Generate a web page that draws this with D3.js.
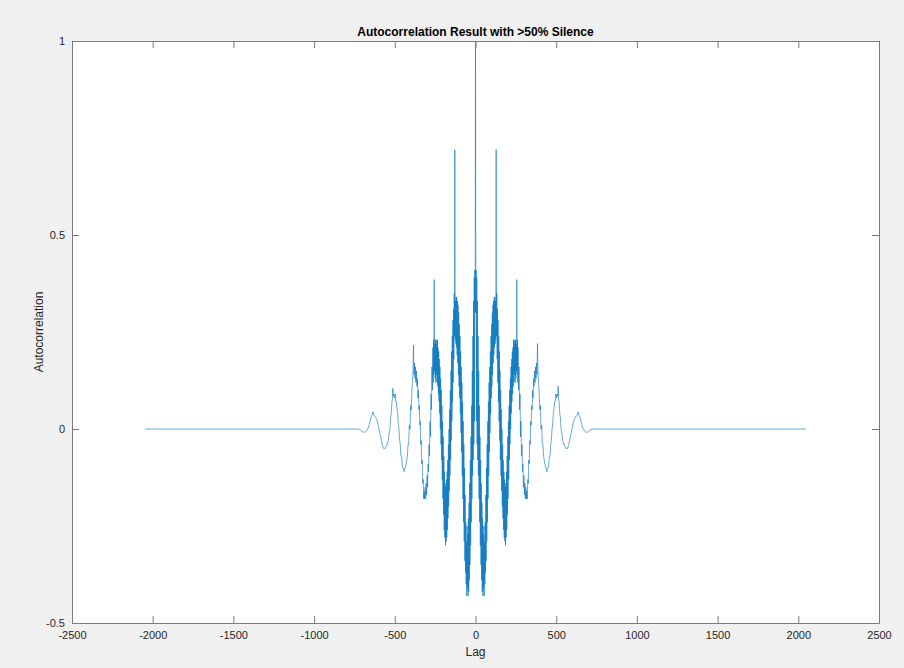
<!DOCTYPE html>
<html>
<head>
<meta charset="utf-8">
<script src="https://cdn.jsdelivr.net/npm/d3@7"></script>
<style>
  html,body{margin:0;padding:0;background:#f0f0f0;}
  svg{display:block;font-family:"Liberation Sans",Arial,Helvetica,sans-serif;}
</style>
</head>
<body>
<svg id="chart" width="904" height="668"></svg>
<script>
// ===== data =====
const TITLE = "Autocorrelation Result with >50% Silence";
const X_LABEL = "Lag";
const Y_LABEL = "Autocorrelation";
const xTicks = [-2500,-2000,-1500,-1000,-500,0,500,1000,1500,2000,2500];
const yTicks = [-0.5,0,0.5,1];

// [lag, autocorrelation]; negative lags
const leftSide = [
  [-2047,0],[-735,0],[-723,-0.001],[-715,-0.002],[-707,-0.004],[-700,-0.007],[-694,-0.008],[-688,-0.008],[-683,-0.008],[-678,-0.006],[-673,-0.004],[-668,0.0],[-663,0.005],[-658,0.012],[-653,0.02],
  [-648,0.03],[-643,0.035],[-639,0.036],[-636,0.044],[-633,0.04],[-628,0.035],[-623,0.032],[-618,0.03],[-613,0.025],[-608,0.02],[-603,0.01],[-598,0.0],[-593,-0.01],[-588,-0.02],[-583,-0.03],
  [-578,-0.04],[-574,-0.045],[-570,-0.05],[-566,-0.05],[-562,-0.05],[-558,-0.05],[-554,-0.045],[-550,-0.04],[-546,-0.04],[-542,-0.03],[-538,-0.02],[-534,-0.01],[-530,0.0],[-526,0.03],[-522,0.04],
  [-518,0.07],[-514,0.08],[-512,0.105],[-510,0.085],[-506,0.09],[-502,0.08],[-498,0.09],[-494,0.07],[-490,0.07],[-486,0.05],[-482,0.04],[-478,0.01],[-474,0.0],[-470,-0.03],[-466,-0.04],[-462,-0.07],[-458,-0.07],
  [-454,-0.09],[-450,-0.1],[-446,-0.105],[-442,-0.11],[-438,-0.1],[-434,-0.1],[-430,-0.09],[-426,-0.08],[-422,-0.07],[-418,-0.04],[-414,-0.04],[-410,0.01],[-406,0.0],[-402,0.06],[-398,0.05],[-394,0.1],
  [-390,0.12],[-387,0.15],[-384,0.216],[-381,0.14],[-378,0.17],[-375,0.13],[-372,0.16],[-369,0.12],[-366,0.15],[-363,0.11],[-360,0.13],[-357,0.08],[-354,0.1],[-351,0.05],[-348,0.06],[-345,0.01],[-342,0.02],[-339,-0.04],[-336,-0.03],[-333,-0.09],[-330,-0.08],[-327,-0.14],
  [-324,-0.13],[-321,-0.18],[-318,-0.16],[-315,-0.18],[-312,-0.15],[-309,-0.18],[-306,-0.14],[-303,-0.17],[-300,-0.12],[-297,-0.15],[-294,-0.09],[-291,-0.11],[-288,-0.04],[-285,-0.07],[-282,0.02],[-279,-0.02],[-276,0.09],[-273,0.05],[-270,0.16],[-267,0.1],
  [-264,0.21],[-262,0.12],[-260,0.23],[-258,0.14],[-256,0.385],[-254,0.15],[-252,0.22],[-250,0.13],[-248,0.23],[-246,0.12],[-244,0.22],[-242,0.14],[-240,0.23],[-238,0.12],[-236,0.23],[-234,0.11],[-232,0.21],[-230,0.09],[-228,0.2],[-226,0.07],[-224,0.18],[-222,0.04],[-220,0.16],[-218,0.0],[-216,0.13],[-214,-0.04],[-212,0.1],[-210,-0.08],[-208,0.06],[-206,-0.13],[-204,0.02],[-202,-0.18],[-200,-0.02],[-198,-0.22],[-196,-0.07],
  [-194,-0.26],[-192,-0.11],[-190,-0.28],[-188,-0.14],[-186,-0.3],[-184,-0.15],[-182,-0.29],[-180,-0.13],[-178,-0.28],[-176,-0.11],[-174,-0.26],[-172,-0.08],[-170,-0.23],[-168,-0.04],[-166,-0.2],[-164,0.0],[-162,-0.16],[-160,0.05],[-158,-0.12],[-156,0.1],[-154,-0.08],[-152,0.15],[-150,-0.03],[-148,0.2],[-146,0.02],[-144,0.24],[-142,0.07],[-140,0.28],[-138,0.12],[-136,0.31],
  [-134,0.18],[-132,0.35],[-130,0.24],[-128,0.72],[-126,0.23],[-124,0.33],[-122,0.22],[-120,0.34],[-118,0.21],[-116,0.34],[-114,0.19],[-112,0.33],[-110,0.17],[-108,0.32],[-106,0.14],[-104,0.3],[-102,0.11],[-100,0.27],[-98,0.08],[-96,0.24],[-94,0.04],[-92,0.2],[-90,-0.01],[-88,0.16],[-86,-0.06],[-84,0.12],[-82,-0.12],[-80,0.07],[-78,-0.18],[-76,0.02],[-74,-0.24],[-72,-0.04],[-70,-0.29],[-68,-0.1],[-66,-0.34],[-64,-0.17],
  [-62,-0.37],[-60,-0.24],[-58,-0.4],[-56,-0.29],[-54,-0.43],[-52,-0.25],[-50,-0.41],[-48,-0.27],[-46,-0.43],[-44,-0.23],[-42,-0.42],[-40,-0.19],[-38,-0.39],[-36,-0.14],[-34,-0.35],[-32,-0.08],[-30,-0.3],[-28,-0.02],[-26,-0.24],[-24,0.06],[-22,-0.18],[-20,0.15],[-18,-0.12],[-16,0.24],[-14,-0.08],[-12,0.33],[-10,-0.04],[-8,0.39],[-6,0.02],[-4,0.41],[-2,0.3]
];

// zero lag and positive lags
const rightSide = [
  [0,1.0],[2,0.3],[4,0.41],[6,0.02],[8,0.39],[10,-0.04],[12,0.33],[14,-0.08],[16,0.24],[18,-0.12],[20,0.15],[22,-0.18],[24,0.06],[26,-0.24],[28,-0.02],[30,-0.3],[32,-0.08],[34,-0.35],[36,-0.14],[38,-0.39],[40,-0.19],[42,-0.42],[44,-0.23],[46,-0.43],[48,-0.27],[50,-0.41],[52,-0.25],[54,-0.43],[56,-0.29],[58,-0.4],[60,-0.24],[62,-0.37],
  [64,-0.17],[66,-0.34],[68,-0.1],[70,-0.29],[72,-0.04],[74,-0.24],[76,0.02],[78,-0.18],[80,0.07],[82,-0.12],[84,0.12],[86,-0.06],[88,0.16],[90,-0.01],[92,0.2],[94,0.04],[96,0.24],[98,0.08],[100,0.27],[102,0.11],[104,0.3],[106,0.14],[108,0.32],[110,0.17],[112,0.33],[114,0.19],[116,0.34],[118,0.21],[120,0.34],[122,0.22],[124,0.33],[126,0.23],[128,0.72],[130,0.24],[132,0.35],[134,0.18],
  [136,0.31],[138,0.12],[140,0.28],[142,0.07],[144,0.24],[146,0.02],[148,0.2],[150,-0.03],[152,0.15],[154,-0.08],[156,0.1],[158,-0.12],[160,0.05],[162,-0.16],[164,0.0],[166,-0.2],[168,-0.04],[170,-0.23],[172,-0.08],[174,-0.26],[176,-0.11],[178,-0.28],[180,-0.13],[182,-0.29],[184,-0.15],[186,-0.3],[188,-0.14],[190,-0.28],[192,-0.11],[194,-0.26],
  [196,-0.07],[198,-0.22],[200,-0.02],[202,-0.18],[204,0.02],[206,-0.13],[208,0.06],[210,-0.08],[212,0.1],[214,-0.04],[216,0.13],[218,0.0],[220,0.16],[222,0.04],[224,0.18],[226,0.07],[228,0.2],[230,0.09],[232,0.21],[234,0.11],[236,0.23],[238,0.12],[240,0.23],[242,0.14],[244,0.22],[246,0.12],[248,0.23],[250,0.13],[252,0.22],[254,0.15],[256,0.385],[258,0.14],[260,0.23],[262,0.12],[264,0.21],
  [267,0.1],[270,0.16],[273,0.05],[276,0.09],[279,-0.02],[282,0.02],[285,-0.07],[288,-0.04],[291,-0.11],[294,-0.09],[297,-0.15],[300,-0.12],[303,-0.17],[306,-0.14],[309,-0.18],[312,-0.15],[315,-0.18],[318,-0.16],[321,-0.18],[324,-0.13],
  [327,-0.14],[330,-0.08],[333,-0.09],[336,-0.03],[339,-0.04],[342,0.02],[345,0.01],[348,0.06],[351,0.05],[354,0.1],[357,0.08],[360,0.13],[363,0.11],[366,0.15],[369,0.12],[372,0.16],[375,0.13],[378,0.17],[381,0.14],[384,0.22],[387,0.15],[390,0.12],
  [394,0.1],[398,0.05],[402,0.06],[406,0.0],[410,0.01],[414,-0.04],[418,-0.04],[422,-0.07],[426,-0.08],[430,-0.09],[434,-0.1],[438,-0.1],[442,-0.11],[446,-0.105],[450,-0.1],[454,-0.09],
  [458,-0.07],[462,-0.07],[466,-0.04],[470,-0.03],[474,0.0],[478,0.01],[482,0.04],[486,0.05],[490,0.07],[494,0.07],[498,0.09],[502,0.08],[506,0.09],[510,0.085],[512,0.11],[514,0.08],[518,0.07],
  [522,0.04],[526,0.03],[530,0.0],[534,-0.01],[538,-0.02],[542,-0.03],[546,-0.04],[550,-0.04],[554,-0.045],[558,-0.05],[562,-0.05],[566,-0.05],[570,-0.05],[574,-0.045],[578,-0.04],
  [583,-0.03],[588,-0.02],[593,-0.01],[598,0.0],[603,0.01],[608,0.02],[613,0.025],[618,0.03],[623,0.032],[628,0.035],[633,0.04],[636,0.044],[639,0.036],[643,0.035],[648,0.03],
  [653,0.02],[658,0.012],[663,0.005],[668,0.0],[673,-0.004],[678,-0.006],[683,-0.008],[688,-0.008],[694,-0.008],[700,-0.007],[707,-0.004],[715,-0.002],[723,-0.001],[735,0],[2047,0]
];

// ===== layout =====
const W = 904, H = 668;
const box = {left:72, right:879, top:41, bottom:623};
const AXIS_COL = "#7a7a7a";
const TEXT_COL = "#262626";
const LINE_COL = "#0072BD";

const svg = d3.select("#chart");
svg.append("rect").attr("width",W).attr("height",H).attr("fill","#f0f0f0");
svg.append("rect")
  .attr("x",box.left).attr("y",box.top)
  .attr("width",box.right-box.left).attr("height",box.bottom-box.top)
  .attr("fill","#ffffff");

const x = d3.scaleLinear().domain([-2500,2500]).range([box.left, box.right]);
const y = d3.scaleLinear().domain([-0.5,1]).range([box.bottom, box.top]);

// ===== series =====
const series = leftSide.concat(rightSide);
const line = d3.line().x(d => x(d[0])).y(d => y(d[1]));

svg.append("path")
  .attr("d", line(series))
  .attr("fill","none")
  .attr("stroke",LINE_COL)
  .attr("stroke-width",0.6)
  .attr("stroke-linejoin","miter");

// ===== axes (box with inward ticks) =====
// plain hyphen for negatives, like the original tick labels
const plain = d => String(d);

function styleAxis(g){
  g.selectAll("path.domain").attr("stroke",AXIS_COL).attr("stroke-width",1);
  g.selectAll(".tick line").attr("stroke",AXIS_COL).attr("stroke-width",1);
  g.selectAll("text").attr("fill",TEXT_COL).attr("font-size","11px")
    .attr("font-family","'Liberation Sans',Arial,Helvetica,sans-serif");
}

svg.append("g")
  .attr("transform",`translate(0,${box.bottom})`)
  .call(d3.axisBottom(x).tickValues(xTicks).tickSizeInner(-7).tickSizeOuter(0).tickPadding(8).tickFormat(plain))
  .call(styleAxis);

svg.append("g")
  .attr("transform",`translate(0,${box.top})`)
  .call(d3.axisTop(x).tickValues(xTicks).tickSizeInner(-7).tickSizeOuter(0).tickFormat(""))
  .call(styleAxis);

svg.append("g")
  .attr("transform",`translate(${box.left},0)`)
  .call(d3.axisLeft(y).tickValues(yTicks).tickSizeInner(-7).tickSizeOuter(0).tickPadding(7).tickFormat(plain))
  .call(styleAxis);

svg.append("g")
  .attr("transform",`translate(${box.right},0)`)
  .call(d3.axisRight(y).tickValues(yTicks).tickSizeInner(-7).tickSizeOuter(0).tickFormat(""))
  .call(styleAxis);

// ===== labels =====
const midX = (box.left + box.right) / 2;
const midY = (box.top + box.bottom) / 2;

svg.append("text")
  .attr("x",midX).attr("y",35.5)
  .attr("text-anchor","middle")
  .attr("font-size","12px").attr("font-weight","bold")
  .attr("fill","#000")
  .text(TITLE);

svg.append("text")
  .attr("x",midX).attr("y",656)
  .attr("text-anchor","middle")
  .attr("font-size","12px")
  .attr("fill",TEXT_COL)
  .text(X_LABEL);

svg.append("text")
  .attr("transform",`translate(43,${midY}) rotate(-90)`)
  .attr("text-anchor","middle")
  .attr("font-size","12px")
  .attr("fill",TEXT_COL)
  .text(Y_LABEL);
</script>
</body>
</html>
